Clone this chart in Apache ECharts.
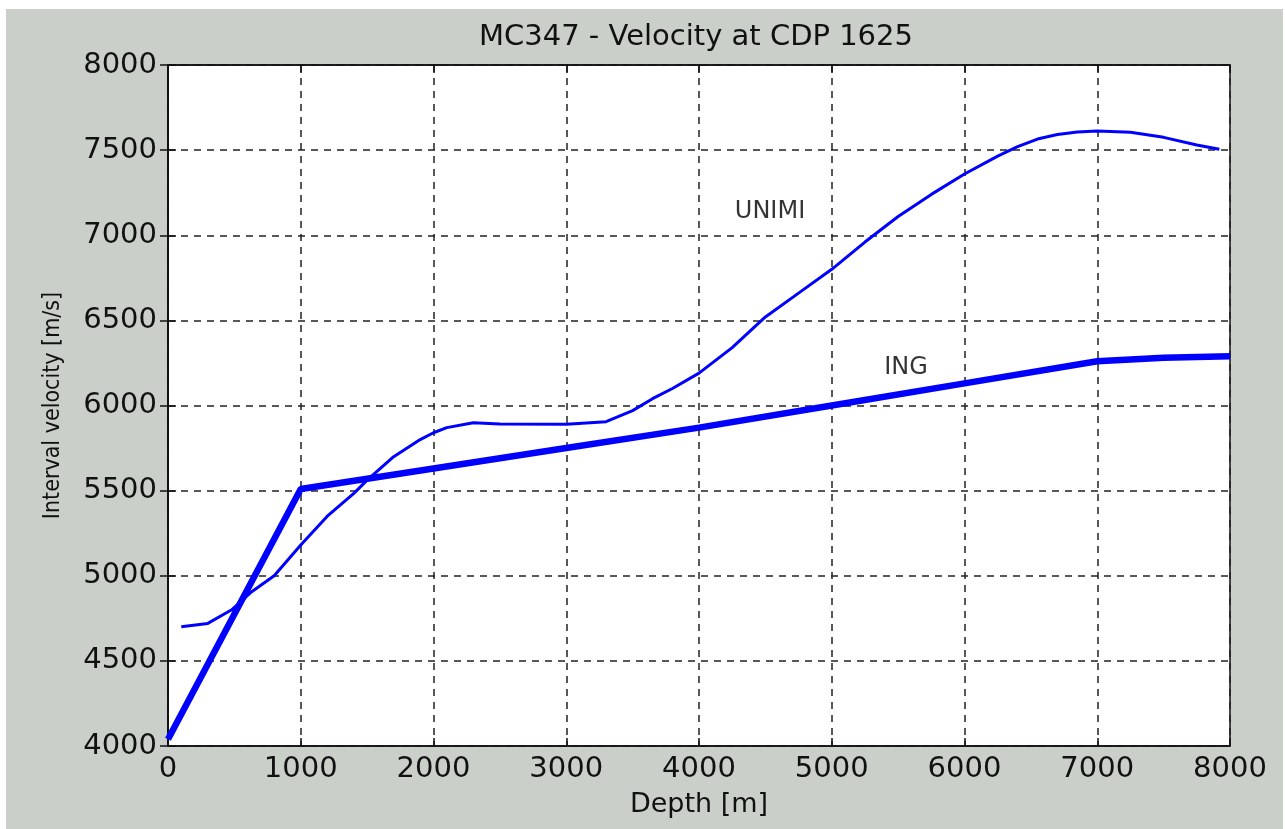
<!DOCTYPE html>
<html>
<head>
<meta charset="utf-8">
<script src="https://cdn.jsdelivr.net/npm/echarts@6/dist/echarts.min.js"></script>
<style>
html,body{margin:0;padding:0;background:#ffffff;}
#chart{position:absolute;left:6px;top:9px;width:1277px;height:820px;}
</style>
</head>
<body>
<div id="chart"></div>
<script>
// ---- data ----
var unimiDepth = [100, 300, 480, 620, 800, 1000, 1200, 1400, 1500, 1700, 1900, 2000, 2100, 2300, 2500, 3000, 3300, 3500, 3650, 3800, 4000, 4250, 4500, 4750, 5000, 5250, 5500, 5750, 6000, 6250, 6400, 6550, 6700, 6850, 7000, 7250, 7500, 7750, 7920];
var unimiVel   = [4700, 4720, 4800, 4900, 5000, 5180, 5350, 5484, 5562, 5699, 5800, 5840, 5870, 5899, 5891, 5890, 5905, 5970, 6040, 6100, 6190, 6340, 6520, 6660, 6800, 6960, 7110, 7240, 7360, 7465, 7520, 7565, 7592, 7606, 7612, 7605, 7575, 7530, 7505];
var ingDepth = [0, 1000, 2000, 3000, 4000, 5000, 6000, 7000, 7500, 8000];
var ingVel   = [4040, 5510, 5630, 5750, 5870, 6000, 6130, 6260, 6280, 6290];
var labelNames  = ['UNIMI', 'ING'];
var labelDepths = [4535, 5560];
var labelVels   = [7137, 6220];
var xTicks = {min: 0, max: 8000, step: 1000};
var yTicks = {min: 4000, max: 8000, step: 500};
var titleText = 'MC347 - Velocity at CDP 1625';
var xName = 'Depth [m]';
var yName = 'Interval velocity [m/s]';

function pairs(xs, ys){ var o=[]; for(var i=0;i<xs.length;i++) o.push([xs[i], ys[i]]); return o; }
var labelData = [];
for (var i=0;i<labelNames.length;i++) labelData.push({name: labelNames[i], value: [labelDepths[i], labelVels[i]]});

var FONT = 'DejaVu Sans';
var chart = echarts.init(document.getElementById('chart'), null, {renderer: 'canvas'});
var gridLine = {show: true, lineStyle: {color: '#222', width: 1.5, type: [7, 6]}};
var axisLineBlack = {show: true, lineStyle: {color: '#111', width: 1.5}};
var plain = function(v){ return String(v); };
chart.setOption({
  animation: false,
  backgroundColor: '#cacfca',
  title: {
    text: titleText,
    left: 685, top: 9, textAlign: 'center',
    textStyle: {fontFamily: FONT, fontSize: 29, fontWeight: 'normal', color: '#111'}
  },
  grid: {left: 162, top: 56, right: 53, bottom: 83, show: true, backgroundColor: '#ffffff', borderColor: '#111', borderWidth: 1.5},
  xAxis: [{
    type: 'value', min: xTicks.min, max: xTicks.max, interval: xTicks.step, position: 'bottom',
    name: xName, nameLocation: 'middle', nameGap: 45,
    nameTextStyle: {fontFamily: FONT, fontSize: 27, color: '#111'},
    axisLine: axisLineBlack,
    axisTick: {show: true, inside: true, length: 8, lineStyle: {color: '#111', width: 1.5}},
    axisLabel: {fontFamily: FONT, fontSize: 29, color: '#111', margin: 9, formatter: plain},
    splitLine: gridLine
  }, {
    type: 'value', min: xTicks.min, max: xTicks.max, interval: xTicks.step, position: 'top',
    axisLine: axisLineBlack,
    axisTick: {show: true, inside: true, length: 8, lineStyle: {color: '#111', width: 1.5}},
    axisLabel: {show: false}, splitLine: {show: false}
  }],
  yAxis: [{
    type: 'value', min: yTicks.min, max: yTicks.max, interval: yTicks.step, position: 'left',
    name: yName, nameLocation: 'middle', nameGap: 103, nameRotate: 90,
    nameTextStyle: {fontFamily: 'DejaVu Sans Condensed, DejaVu Sans, sans-serif', fontSize: 23, color: '#111'},
    axisLine: axisLineBlack,
    axisTick: {show: true, inside: true, length: 8, lineStyle: {color: '#111', width: 1.5}},
    axisLabel: {fontFamily: FONT, fontSize: 29, color: '#111', margin: 11, formatter: plain},
    splitLine: gridLine
  }, {
    type: 'value', min: yTicks.min, max: yTicks.max, interval: yTicks.step, position: 'right',
    axisLine: axisLineBlack,
    axisTick: {show: true, inside: true, length: 8, lineStyle: {color: '#111', width: 1.5}},
    axisLabel: {show: false}, splitLine: {show: false}
  }],
  series: [{
    name: 'UNIMI', type: 'line', data: pairs(unimiDepth, unimiVel), showSymbol: false, smooth: false,
    lineStyle: {color: '#0000ff', width: 3}, itemStyle: {color: '#0000ff'}, z: 3
  }, {
    name: 'ING', type: 'line', data: pairs(ingDepth, ingVel), showSymbol: false,
    lineStyle: {color: '#0000ff', width: 6.5}, itemStyle: {color: '#0000ff'}, z: 4
  }, {
    name: 'labels', type: 'scatter', data: labelData, symbolSize: 0, silent: true,
    label: {show: true, position: 'inside', formatter: '{b}', fontFamily: FONT, fontSize: 24, color: '#000', textBorderWidth: 0}
  }]
});
</script>
</body>
</html>
